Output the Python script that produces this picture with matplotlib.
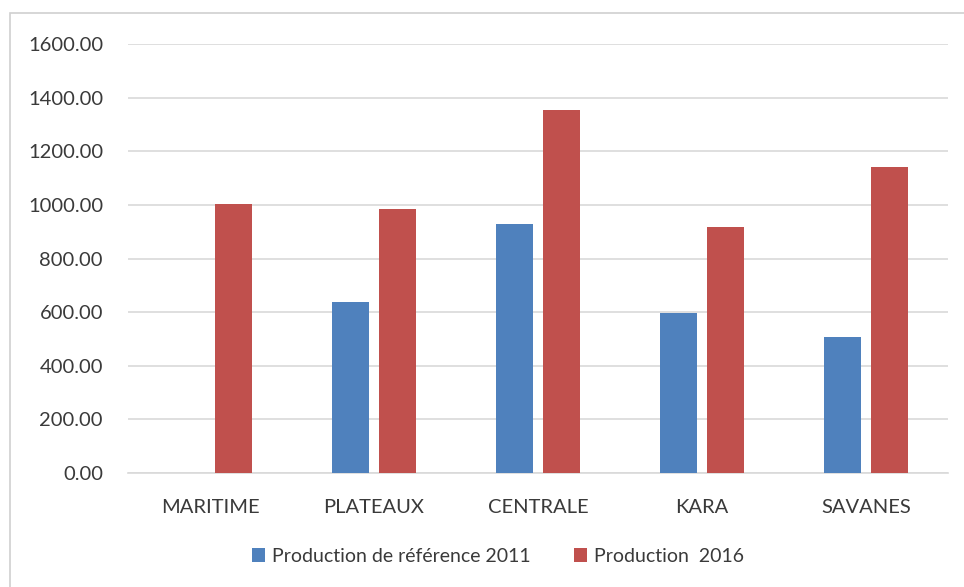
import matplotlib.pyplot as plt
import numpy as np
from matplotlib.patches import Rectangle

regions = ["MARITIME", "PLATEAUX", "CENTRALE", "KARA", "SAVANES"]
prod_2011 = [0, 638, 930, 597, 508]
prod_2016 = [1005, 985, 1355, 918, 1142]

plt.rcParams['font.family'] = ['Lato', 'DejaVu Sans']

fig = plt.figure(figsize=(9.64, 5.87), dpi=100)
ax = fig.add_axes([128 / 964, 1 - 473 / 587, 820 / 964, 429 / 587])

x = np.arange(len(regions))
w = 0.225
ax.bar(x - 0.143, prod_2011, w, color="#4F81BD", label="Production de référence 2011", zorder=3)
ax.bar(x + 0.143, prod_2016, w, color="#C0504D", label="Production  2016", zorder=3)

ax.set_xlim(-0.5, len(regions) - 0.5)
ax.set_ylim(0, 1600)
ax.set_yticks(np.arange(0, 1601, 200))
ax.set_yticklabels([f"{v:.2f}" for v in np.arange(0, 1601, 200)])
ax.set_xticks(x)
ax.set_xticklabels(regions)
ax.tick_params(axis="both", length=0, labelsize=14.5, colors="#3A3A3A")
ax.tick_params(axis="y", pad=18)
ax.tick_params(axis="x", pad=19)
ax.grid(axis="y", color="#D9D9D9", linewidth=1.2, zorder=0)
for s in ["top", "right", "left"]:
    ax.spines[s].set_visible(False)
ax.spines["bottom"].set_color("#D9D9D9")
ax.spines["bottom"].set_linewidth(1.2)

leg = fig.legend(loc="center", bbox_to_anchor=(498 / 964, 1 - 556 / 587), ncol=2,
                 frameon=False, fontsize=14, handlelength=0.7, handleheight=0.7,
                 handletextpad=0.35, columnspacing=2.2)
for t in leg.get_texts():
    t.set_color("#3A3A3A")

# outer chart border (cut off at right and bottom)
fig.patches.append(Rectangle((10 / 964, -0.1), 1.1, 1 - 13 / 587 + 0.1,
                             transform=fig.transFigure, fill=False,
                             edgecolor="#D0D0D0", linewidth=1.2))

fig.savefig("out.png", dpi=100)
